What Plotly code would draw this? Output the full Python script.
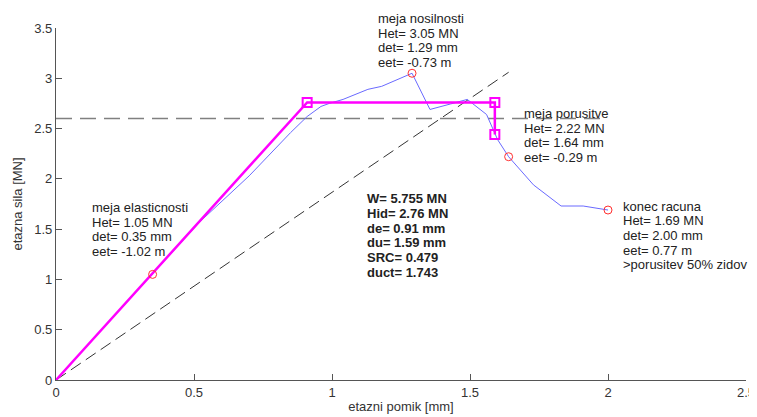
import plotly.graph_objects as go

# Data
curve_x = [0, 0.35, 0.52, 0.70, 0.85, 0.91, 0.96, 0.99, 1.04, 1.13, 1.18, 1.29, 1.355, 1.43, 1.49, 1.56, 1.60, 1.64, 1.73, 1.83, 1.91, 2.00]
curve_y = [0, 1.05, 1.57, 2.03, 2.46, 2.62, 2.72, 2.75, 2.79, 2.89, 2.92, 3.05, 2.69, 2.745, 2.79, 2.64, 2.39, 2.22, 1.94, 1.73, 1.73, 1.69]

ideal_x = [0, 0.91, 1.59, 1.59]
ideal_y = [0, 2.76, 2.76, 2.44]
ideal_mark_x = [0.91, 1.59, 1.59]
ideal_mark_y = [2.76, 2.76, 2.44]

key_x = [0.35, 1.29, 1.64, 2.00]
key_y = [1.05, 3.05, 2.22, 1.69]

limit_x = [0, 2.0]
limit_y = [2.6, 2.6]

secant_x = [0, 1.64]
secant_y = [0, 3.06]

label_elastic = ["meja elasticnosti", "Het= 1.05 MN", "det= 0.35 mm", "eet= -1.02 m"]
label_peak = ["meja nosilnosti", "Het= 3.05 MN", "det= 1.29 mm", "eet= -0.73 m"]
label_fail = ["meja porusitve", "Het= 2.22 MN", "det= 1.64 mm", "eet= -0.29 m"]
label_end = ["konec racuna", "Het= 1.69 MN", "det= 2.00 mm", "eet= 0.77 m", ">porusitev 50% zidov"]
label_summary = ["W= 5.755 MN", "Hid= 2.76 MN", "de= 0.91 mm", "du= 1.59 mm", "SRC= 0.479", "duct= 1.743"]

# text block placement (x of left edge, y of first line centre, in data units)
blocks = [
    (0.123, 1.717, label_elastic, False),
    (1.160, 3.596, label_peak, False),
    (1.688, 2.650, label_fail, False),
    (2.048, 1.730, label_end, False),
    (1.120, 1.802, label_summary, True),
]
LINE_PX = 14.7
PX_PER_Y = 352.5 / 3.5

fig = go.Figure()
fig.add_trace(go.Scatter(x=limit_x, y=limit_y, mode="lines",
                         line=dict(color="#808080", width=1.5, dash="16px,8px"), showlegend=False))
fig.add_trace(go.Scatter(x=secant_x, y=secant_y, mode="lines",
                         line=dict(color="#333333", width=1, dash="12px,6px"), showlegend=False))
fig.add_trace(go.Scatter(x=curve_x, y=curve_y, mode="lines",
                         line=dict(color="#6a6aff", width=1), showlegend=False))
fig.add_trace(go.Scatter(x=ideal_x, y=ideal_y, mode="lines",
                         line=dict(color="#ff00ff", width=2.5), showlegend=False))
fig.add_trace(go.Scatter(x=ideal_mark_x, y=ideal_mark_y, mode="markers",
                         marker=dict(symbol="square-open", size=9, color="#ff00ff", line=dict(width=2)),
                         showlegend=False))
fig.add_trace(go.Scatter(x=key_x, y=key_y, mode="markers",
                         marker=dict(symbol="circle-open", size=8, color="#ff3030", line=dict(width=1)),
                         showlegend=False))

font = dict(family="Liberation Sans, Arial", size=13, color="#222222")
for bx, by, lines, bold in blocks:
    ay = min(by, 3.4)
    base = (by - ay) * PX_PER_Y
    for i, t in enumerate(lines):
        fig.add_annotation(x=bx, y=ay, yshift=base - i * LINE_PX,
                           text=f"<b>{t}</b>" if bold else t, showarrow=False,
                           xanchor="left", yanchor="middle", align="left", font=font)

axis_common = dict(showline=True, linecolor="#555555", linewidth=1.2, ticks="inside", ticklen=6,
                   tickcolor="#555555", showgrid=False, zeroline=False, mirror=False,
                   tickfont=dict(family="Liberation Sans, Arial", size=13, color="#333333"))
fig.update_xaxes(range=[0, 2.5], tickvals=[0, 0.5, 1, 1.5, 2, 2.5], ticktext=["0", "0.5", "1", "1.5", "2", "2.5"],
                 title=dict(text="etazni pomik [mm]", standoff=3,
                            font=dict(family="Liberation Sans, Arial", size=13, color="#333333")),
                 **axis_common)
fig.update_yaxes(range=[0, 3.5], tickvals=[0, 0.5, 1, 1.5, 2, 2.5, 3, 3.5],
                 ticktext=["0", "0.5", "1", "1.5", "2", "2.5", "3", "3.5"],
                 title=dict(text="etazna sila [MN]", standoff=8,
                            font=dict(family="Liberation Sans, Arial", size=13, color="#333333")),
                 **axis_common)
fig.update_layout(width=749, height=409, margin=dict(l=48, r=11, t=20, b=37, autoexpand=False),
                  plot_bgcolor="white", paper_bgcolor="white")
fig.write_html("out.html")
